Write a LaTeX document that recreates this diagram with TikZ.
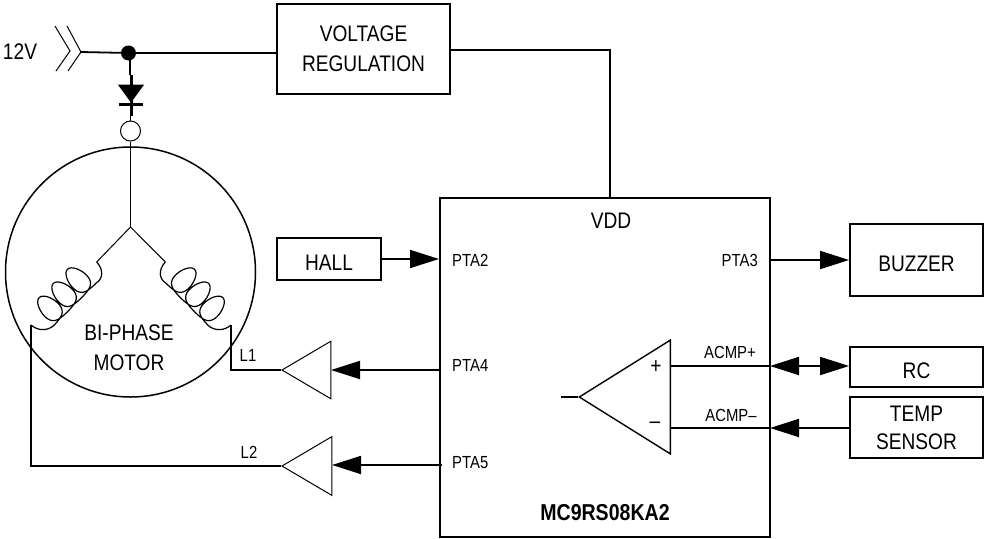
\documentclass[tikz,border=0pt]{standalone}
\usepackage{fontspec}
\setmainfont[FakeStretch=0.85]{Liberation Sans}
\usetikzlibrary{shapes.geometric, arrows.meta}
\tikzstyle{boxNode} = [rectangle, draw=black, line width=1.8pt, inner sep=0pt, align=center, font=\fontsize{22.5}{30}\selectfont]
\tikzstyle{tagNode} = [boxNode, text height=22pt, text depth=0pt]
\tikzstyle{bigLabel} = [inner sep=0pt, align=center, font=\fontsize{22.5}{30}\selectfont]
\tikzstyle{pinLabel} = [inner sep=0pt, font=\fontsize{17.5}{20}\selectfont]
\tikzstyle{wire} = [line width=1.8pt]
\tikzstyle{arrow} = [line width=1.8pt,-{Triangle[length=29pt,width=18pt]}]
\tikzstyle{bothArrow} = [line width=1.8pt,{Triangle[length=29pt,width=18pt]}-{Triangle[length=29pt,width=18pt]}]
\tikzstyle{buffer} = [isosceles triangle, isosceles triangle apex angle=61, shape border rotate=180, draw=black, line width=1pt, inner sep=0pt, anchor=apex]
\newcommand{\coilWire}{
    \draw [line width=1.2pt] (96.7,262) .. controls (104,270) and (103,279) .. (95.8,283.4)
        plot [smooth, samples=140, domain=-180:900] ({79.5-0.707*(2+0.0556*\x-14*sin(\x))-0.707*(15*cos(\x)+3*cos(2*\x)-3)},{278.5+0.707*(2+0.0556*\x-14*sin(\x))-0.707*(15*cos(\x)+3*cos(2*\x)-3)})
        .. controls (47,331) and (38,331) .. (31,325);
}
\begin{document}
\begin{tikzpicture}[x=1pt, y=-1pt]
    \useasboundingbox (0,0) rectangle (984,538);
    % blocks
    \node (vreg) [boxNode, minimum width=173pt, minimum height=90pt] at (363.5,49) {VOLTAGE\\REGULATION};
    \node (hall) [tagNode, minimum width=104pt, minimum height=42pt] at (329,259) {HALL};
    \node (mcu) [boxNode, minimum width=330pt, minimum height=339pt] at (605,367.5) {};
    \node (buzzer) [tagNode, minimum width=133pt, minimum height=72pt] at (916.5,260) {BUZZER};
    \node (rc) [tagNode, minimum width=133pt, minimum height=40pt] at (916.5,367) {RC};
    \node (temp) [boxNode, minimum width=133pt, minimum height=61pt, font=\fontsize{22.5}{28}\selectfont] at (916.5,427.5) {TEMP\\SENSOR};
    % supply side
    \node (supply) [bigLabel] at (20,52) {12V};
    \coordinate (plug) at (81,52);
    \draw [line width=1pt] (55,26) -- (70,51) -- (56,71);
    \draw [line width=1pt] (67,26) -- (plug) -- (68,71);
    \node (dot) [circle, fill=black, minimum size=15pt, inner sep=0pt] at (128.5,53) {};
    \draw [wire] (plug) -- (dot);
    \draw [wire] (dot) -- (vreg.west |- dot);
    \draw [wire] (vreg.east |- 0,50) -- (610,50) -- (mcu.north -| 610,0);
    \node (diode) [isosceles triangle, isosceles triangle apex angle=72, shape border rotate=-90, fill=black, inner sep=0pt, minimum height=18pt, anchor=apex] at (131,103) {};
    \node (bar) [rectangle, fill=black, minimum width=24pt, minimum height=3pt, inner sep=0pt] at (131,104.5) {};
    \node (star) [circle, draw=black, line width=1pt, fill=white, minimum size=20pt, inner sep=0pt] at (130.5,131) {};
    \draw [wire] (130,60) -- (130,75);
    \draw [line width=3pt] (131,75) -- (131,116);
    \draw [wire] (130.5,116) -- (star.north);
    % motor
    \node (motor) [circle, draw=black, line width=1.5pt, minimum size=250pt, inner sep=0pt] at (130.5,272) {};
    \node (mlabel) [bigLabel] at (129,348) {BI-PHASE\\MOTOR};
    \coordinate (neutral) at (130.5,227);
    \draw [line width=1.3pt] (star.south) -- (neutral);
    \draw [line width=1pt] (96.7,262) -- (neutral) -- (165.3,262);
    \coilWire
    \begin{scope}[shift={(262,0)}, xscale=-1]
        \coilWire
    \end{scope}
    % drivers
    \node (drv1) [buffer, minimum height=49pt] at (281,370) {};
    \node (drv2) [buffer, minimum height=50pt] at (281,466) {};
    \node (l1) [pinLabel] at (248,355) {L1};
    \node (l2) [pinLabel] at (249,452) {L2};
    \draw [wire] (231,325) -- (231,370) -- (drv1.apex);
    \draw [wire] (31,325) -- (31,466) -- (drv2.apex);
    \draw [arrow] (mcu.west |- drv1.apex) -- (331,370);
    \draw [arrow] (442,465) -- (332,465);
    \draw [arrow] (hall.east) -- (439,259);
    % pins
    \node (pta2) [pinLabel, anchor=west] at (452,260) {PTA2};
    \node (pta3) [pinLabel, anchor=east] at (758,260) {PTA3};
    \node (pta4) [pinLabel, anchor=west] at (452,365) {PTA4};
    \node (pta5) [pinLabel, anchor=west] at (452,463) {PTA5};
    \node (vdd) [bigLabel] at (611,221) {VDD};
    \node (part) [bigLabel, font=\fontsize{23}{26}\selectfont\bfseries] at (605,513) {MC9RS08KA2};
    \draw [arrow] (mcu.east |- buzzer.west) -- (buzzer.west);
    % comparator
    \node (cmp) [buffer, line width=1.4pt, isosceles triangle apex angle=64, minimum height=91pt] at (578,397) {};
    \draw [line width=2.5pt] (561,397) -- (cmp.apex);
    \node (plus) [bigLabel] at (656,367) {+};
    \node (minus) [bigLabel] at (655,425) {--};
    \node (acmpp) [pinLabel] at (730,352) {ACMP+};
    \node (acmpm) [pinLabel] at (731,415) {ACMP--};
    \draw [line width=2.5pt] (670,366) -- (685,366);
    \draw [line width=2.5pt] (670,428) -- (685,428);
    \draw [wire] (685,366) -- (770,366);
    \draw [wire] (685,428) -- (770,428);
    \draw [bothArrow] (770,366) -- (rc.west |- 0,366);
    \draw [arrow] (temp.west |- 0,428) -- (770,428);
\end{tikzpicture}
\end{document}
